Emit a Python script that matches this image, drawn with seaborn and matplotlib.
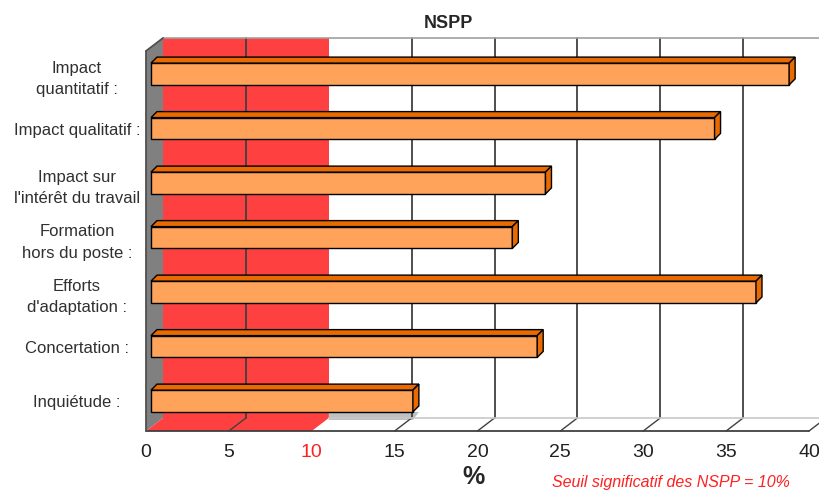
import matplotlib
matplotlib.use("Agg")
import matplotlib.pyplot as plt
from matplotlib.patches import Polygon
import seaborn as sns
import pandas as pd

# data (% of "ne se prononce pas")
categories = ["Impact\nquantitatif :", "Impact qualitatif :", "Impact sur\nl'intérêt du travail",
              "Formation\nhors du poste :", "Efforts\nd'adaptation :", "Concertation :", "Inquiétude :"]
nspp = [38.5, 34.0, 23.8, 21.8, 36.5, 23.3, 15.8]
ticks = [0, 5, 10, 15, 20, 25, 30, 35, 40]
seuil = 10

sns.set_style("white")
plt.rcParams["font.family"] = ["Liberation Sans", "DejaVu Sans"]

fig = plt.figure(figsize=(8.2, 4.9), dpi=100)
ax = fig.add_axes([146 / 820, 59 / 490, 663 / 820, 380 / 490])

df = pd.DataFrame({"label": categories, "pct": nspp})
sns.barplot(data=df, x="pct", y="label", orient="h", width=0.4, color="#FFA35A",
            saturation=1, edgecolor="black", linewidth=1, ax=ax, zorder=4)

ytop, ybot = -0.422, 6.55
ax.set_xlim(0, 40)
ax.set_ylim(ybot, ytop)

# pixel -> data scale, for the fake 3d depth
sx = ax.bbox.width / 40
sy = ax.bbox.height / (ybot - ytop)


def px(x, y, dx=0, dy=0):
    return (x + dx / sx, y - dy / sy)


DX, DY = 17, 13  # depth of the walls
BD = 6           # depth of the bars

# shift bars a bit into the depth, then add top and side faces
bars = list(ax.patches)
for p in bars:
    p.set_x(p.get_x() + 5 / sx)
    x0 = p.get_x()
    x1 = x0 + p.get_width()
    y0 = p.get_y()
    y1 = y0 + p.get_height()
    top = Polygon([(x0, y0), px(x0, y0, BD, BD), px(x1, y0, BD, BD), (x1, y0)],
                  closed=True, fc="#E86A00", ec="black", lw=1, zorder=4)
    side = Polygon([(x1, y0), px(x1, y0, BD, BD), px(x1, y1, BD, BD), (x1, y1)],
                   closed=True, fc="#E86A00", ec="black", lw=1, zorder=4)
    ax.add_patch(top)
    ax.add_patch(side)

# walls and floor
wall = Polygon([(0, ybot), (0, ytop), px(0, ytop, DX, DY), px(0, ybot, DX, DY)],
               closed=True, fc="#808080", ec="none", zorder=1, clip_on=False)
red_back = Polygon([px(0, ytop, DX, DY), px(seuil, ytop, DX, DY), px(seuil, ybot, DX, DY), px(0, ybot, DX, DY)],
                   closed=True, fc="#FF4040", ec="none", zorder=1, clip_on=False)
red_floor = Polygon([(0, ybot), (seuil, ybot), px(seuil, ybot, DX, DY), px(0, ybot, DX, DY)],
                    closed=True, fc="#FF4040", ec="none", zorder=1, clip_on=False)
for patch in [wall, red_back, red_floor]:
    ax.add_patch(patch)

# shadow of the lowest bar on the floor
low = bars[-1]
lx1 = low.get_x() + low.get_width()
ly1 = low.get_y() + low.get_height()
shadow = Polygon([px(seuil, ly1, DX, 0), px(lx1, ly1, BD, 0), px(lx1, ybot, 0, DY - 2), px(seuil, ybot, DX, DY - 2)],
                 closed=True, fc="#C0C0C0", ec="none", zorder=1.5, clip_on=False)
ax.add_patch(shadow)

for t in ticks[1:]:
    if t == seuil:
        continue
    bx, by = zip(px(t, ytop, DX, DY), px(t, ybot, DX, DY))
    ax.plot(bx, by, color="#404040", lw=1.3, zorder=2, clip_on=False)
    fx, fy = zip(px(t, ybot, DX, DY), (t, ybot))
    ax.plot(fx, fy, color="#404040", lw=1, zorder=2, clip_on=False)

lx, ly = zip(px(0, ytop, DX, DY), px(42, ytop, DX, DY))
ax.plot(lx, ly, color="#A0A0A0", lw=1.2, zorder=2, clip_on=False)
lx, ly = zip(px(seuil, ybot, DX, DY), px(42, ybot, DX, DY))
ax.plot(lx, ly, color="#C8C8C8", lw=1.2, zorder=2, clip_on=False)
ax.plot([0, 40], [ybot, ybot], color="#404040", lw=1.3, zorder=3, clip_on=False)
ax.plot([0, 0], [ytop, ybot], color="#505050", lw=1.3, zorder=3, clip_on=False)
lx, ly = zip((0, ytop), px(0, ytop, DX, DY))
ax.plot(lx, ly, color="#505050", lw=1.3, zorder=3, clip_on=False)

for s in ax.spines.values():
    s.set_visible(False)

ax.set_xticks(ticks)
ax.set_xticklabels([str(t) for t in ticks])
ax.tick_params(axis="x", length=3, width=1, color="#404040", pad=6, labelsize=14, labelcolor="#202020")
for lbl in ax.get_xticklabels():
    if lbl.get_text() == str(seuil):
        lbl.set_color("#FF2020")

ax.tick_params(axis="y", length=0, pad=49.7, labelsize=12, labelcolor="#303030")
for lbl in ax.get_yticklabels():
    lbl.set_horizontalalignment("center")
    lbl.set_linespacing(1.55)
ax.set_ylabel("")

ax.set_xlabel("%", fontsize=18, fontweight="bold")
ax.xaxis.set_label_coords((474 - 146) / 663, -0.089)
ax.set_title("NSPP", fontsize=13, fontweight="bold", x=(448 - 146) / 663, y=1.0604, pad=0)

fig.text(552 / 820, 3 / 490, "Seuil significatif des NSPP = 10%", color="#FF2020",
         fontsize=11.5, style="italic", va="baseline")

fig.savefig("out.png", dpi=100)
